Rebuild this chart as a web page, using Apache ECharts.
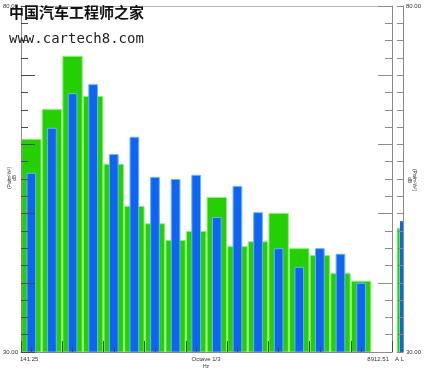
<!DOCTYPE html>
<html>
<head>
<meta charset="utf-8">
<script src="https://cdn.jsdelivr.net/npm/echarts@6/dist/echarts.min.js"></script>
<style>html,body{margin:0;padding:0;background:#fff;}#c{width:425px;height:370px;}</style>
</head>
<body>
<div id="c"></div>
<script>
// 1/3-octave band centre frequencies (Hz)
const bands = ['160','200','250','315','400','500','630','800','1000','1250','1600','2000','2500','3150','4000','5000','6300','8000'];
// band levels, dB
const greenValues = [60.8, 65.1, 72.8, 67.0, 57.2, 51.1, 48.6, 46.2, 47.5, 52.4, 45.3, 46.0, 50.1, 45.0, 44.0, 41.4, 40.3, null];
const blueValues  = [55.9, 62.4, 67.4, 68.7, 58.6, 61.1, 55.3, 55.0, 55.6, 49.5, 54.0, 50.2, 45.0, 42.3, 45.0, 44.2, 40.0, null];
// overall (A / L) levels
const overallCats = ['A L'];
const overallGreen = [47.9];
const overallBlue = [48.9];
// axis texts
const yMin = 30, yMax = 80;
const xStartLabel = '141.25';
const xEndLabel = '8912.51';
const xMidLabel = 'Octave 1/3';
const xUnit = 'Hz';
const yUnit = 'dB';
const yUnit2 = '(Pa/m²/s²)';
const wm1 = '中国汽车工程师之家';
const wm2 = 'www.cartech8.com';

const GREEN = '#24d004', GREEN_EDGE = '#8eee78';
const BLUE = '#0f64f2', BLUE_EDGE = '#62b6ff';
const AX = '#8a8a8a', TK = '#4a4a4a', TXT = '#333';
const lblFmt = v => (v === yMin || v === yMax) ? v.toFixed(2) : '';

const chart = echarts.init(document.getElementById('c'), null, {renderer: 'canvas'});

function yAx(grid, pos, major, minor, labels, tickColor) {
  return {
    type: 'value', gridIndex: grid, position: pos, min: yMin, max: yMax, interval: 10, z: 10,
    axisLine: {show: true, lineStyle: {color: AX, width: 1}},
    axisTick: {show: true, inside: true, length: major, lineStyle: {color: tickColor, width: 1}},
    minorTick: {show: true, splitNumber: 4, length: minor, lineStyle: {color: tickColor, width: 1}},
    axisLabel: {show: !!labels, formatter: lblFmt, fontSize: 6, color: TXT, margin: 3, fontFamily: 'Liberation Sans'},
    splitLine: {show: false}, minorSplitLine: {show: false}
  };
}

chart.setOption({
  animation: false,
  backgroundColor: '#fff',
  grid: [
    {left: 20, top: 6, width: 372, height: 346},
    {left: 397, top: 6, width: 6, height: 346}
  ],
  xAxis: [
    {type: 'category', gridIndex: 0, data: bands, position: 'bottom', z: 10,
     axisLine: {show: true, lineStyle: {color: AX}},
     axisTick: {show: true, inside: true, length: 11, lineStyle: {color: TK}},
     axisLabel: {show: false}},
    {type: 'category', gridIndex: 0, data: bands, position: 'bottom', z: 10,
     axisLine: {show: false},
     axisTick: {show: true, inside: true, alignWithLabel: true, length: 5, lineStyle: {color: TK}},
     axisLabel: {show: false}},
    {type: 'category', gridIndex: 0, data: bands, position: 'top',
     axisLine: {show: true, lineStyle: {color: '#b8b8b8'}},
     axisTick: {show: false}, axisLabel: {show: false}},
    {type: 'category', gridIndex: 1, data: overallCats, position: 'bottom',
     axisLine: {show: true, lineStyle: {color: AX}},
     axisTick: {show: false}, axisLabel: {show: false}}
  ],
  yAxis: [
    yAx(0, 'left', 14, 7, true, TK),
    yAx(0, 'right', 14, 7, false, '#8c8c8c'),
    yAx(1, 'right', 6, 6, true, '#8c8c8c')
  ],
  series: [
    {type: 'bar', name: 'green', xAxisIndex: 0, yAxisIndex: 0, data: greenValues,
     barWidth: '99%', itemStyle: {color: GREEN, borderColor: GREEN_EDGE, borderWidth: 1}, z: 2},
    {type: 'bar', name: 'blue', xAxisIndex: 1, yAxisIndex: 0, data: blueValues,
     barWidth: '47%', itemStyle: {color: BLUE, borderColor: BLUE_EDGE, borderWidth: 1}, z: 3},
    {type: 'bar', name: 'greenA', xAxisIndex: 3, yAxisIndex: 2, data: overallGreen,
     barWidth: 3, barGap: 0, itemStyle: {color: GREEN, borderColor: GREEN_EDGE, borderWidth: 0.5}},
    {type: 'bar', name: 'blueA', xAxisIndex: 3, yAxisIndex: 2, data: overallBlue,
     barWidth: 3, barGap: 0, itemStyle: {color: BLUE}}
  ],
  graphic: [
    {type: 'text', left: 9, top: 5, z: 100, style: {text: wm1, font: 'bold 15px "Noto Sans CJK SC"', fill: '#111'}},
    {type: 'text', left: 9, top: 32, z: 100, style: {text: wm2, font: '14px "DejaVu Sans Mono"', fill: '#222'}},
    {type: 'text', x: 20, y: 359, style: {text: xStartLabel, font: '6px "Liberation Sans"', fill: TXT, textAlign: 'left', textVerticalAlign: 'middle'}},
    {type: 'text', x: 206, y: 359, style: {text: xMidLabel, font: '6px "Liberation Sans"', fill: TXT, textAlign: 'center', textVerticalAlign: 'middle'}},
    {type: 'text', x: 389, y: 359, style: {text: xEndLabel, font: '6px "Liberation Sans"', fill: TXT, textAlign: 'right', textVerticalAlign: 'middle'}},
    {type: 'text', x: 395, y: 359, style: {text: overallCats[0], font: '6px "Liberation Sans"', fill: TXT, textAlign: 'left', textVerticalAlign: 'middle'}},
    {type: 'text', x: 206, y: 367, style: {text: xUnit, font: '5px "Liberation Sans"', fill: TXT, textAlign: 'center', textVerticalAlign: 'middle'}},
    {type: 'text', x: 10, y: 178, rotation: Math.PI / 2, style: {text: yUnit2, font: '5px "Liberation Sans"', fill: TXT, textAlign: 'center', textVerticalAlign: 'middle'}},
    {type: 'text', x: 15, y: 178, rotation: Math.PI / 2, style: {text: yUnit, font: '5px "Liberation Sans"', fill: TXT, textAlign: 'center', textVerticalAlign: 'middle'}},
    {type: 'text', x: 409, y: 180, rotation: -Math.PI / 2, style: {text: yUnit, font: '5px "Liberation Sans"', fill: TXT, textAlign: 'center', textVerticalAlign: 'middle'}},
    {type: 'text', x: 414, y: 180, rotation: -Math.PI / 2, style: {text: yUnit2, font: '5px "Liberation Sans"', fill: TXT, textAlign: 'center', textVerticalAlign: 'middle'}}
  ]
});
</script>
</body>
</html>
